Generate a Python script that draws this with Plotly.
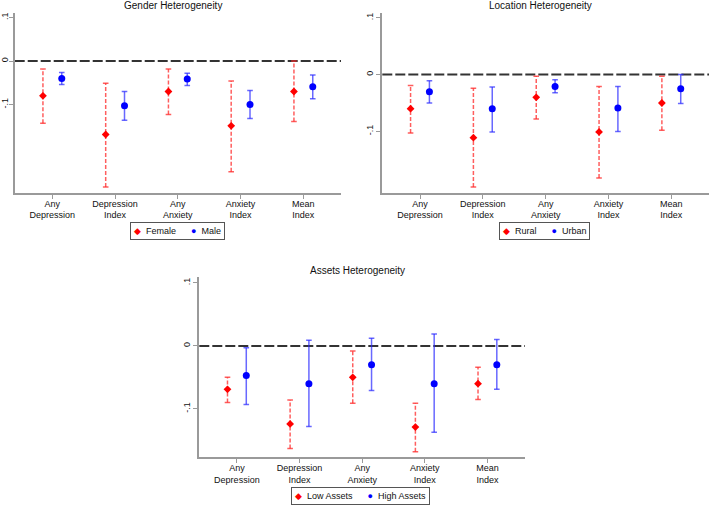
import plotly.graph_objects as go

# ---------------- data ----------------
categories = ["Any<br>Depression", "Depression<br>Index", "Any<br>Anxiety", "Anxiety<br>Index", "Mean<br>Index"]
ytick_vals = [0.1, 0.0, -0.1]
ytick_text = [".1", "0", "-.1"]

# Gender
female_est = [-0.080, -0.169, -0.070, -0.149, -0.070]
female_lo = [-0.143, -0.290, -0.123, -0.255, -0.139]
female_hi = [-0.018, -0.051, -0.018, -0.046, 0.000]
male_est = [-0.040, -0.103, -0.041, -0.100, -0.059]
male_lo = [-0.054, -0.136, -0.056, -0.132, -0.087]
male_hi = [-0.026, -0.070, -0.028, -0.068, -0.032]

# Location
rural_est = [-0.060, -0.111, -0.040, -0.101, -0.050]
rural_lo = [-0.103, -0.198, -0.078, -0.182, -0.098]
rural_hi = [-0.019, -0.024, -0.003, -0.021, -0.003]
urban_est = [-0.030, -0.060, -0.021, -0.059, -0.025]
urban_lo = [-0.050, -0.101, -0.032, -0.100, -0.051]
urban_hi = [-0.011, -0.022, -0.009, -0.021, 0.000]

# Assets
low_est = [-0.069, -0.124, -0.050, -0.129, -0.060]
low_lo = [-0.090, -0.163, -0.091, -0.168, -0.085]
low_hi = [-0.050, -0.086, -0.008, -0.091, -0.034]
high_est = [-0.047, -0.060, -0.030, -0.060, -0.030]
high_lo = [-0.093, -0.128, -0.071, -0.137, -0.069]
high_hi = [-0.003, 0.009, 0.012, 0.019, 0.010]

# ---------------- style ----------------
FONT = "Liberation Sans, Arial, Helvetica, sans-serif"
RED = "#ff0000"
RED_CI = "rgba(255,40,40,0.75)"
BLUE = "#0000ff"
BLUE_CI = "rgba(40,40,255,0.7)"
AXIS_COL = "#9a9a9a"
OFFSET = 0.15
W, H = 709, 506

fig = go.Figure()


def add_series(est, lo, hi, name, side, xa, ya, symbol, color, ci_color, dash, msize):
    xs = [i + 1 + side * OFFSET for i in range(len(est))]
    lx, ly = [], []
    for x, a, b in zip(xs, lo, hi):
        lx += [x, x, None]
        ly += [a, b, None]
    fig.add_trace(go.Scatter(x=lx, y=ly, mode="lines", xaxis=xa, yaxis=ya,
                             line=dict(color=ci_color, width=1.5, dash=dash),
                             showlegend=False, hoverinfo="skip"))
    fig.add_trace(go.Scatter(x=xs + xs, y=lo + hi, mode="markers", xaxis=xa, yaxis=ya,
                             marker=dict(symbol="line-ew", size=4,
                                         line=dict(color=ci_color, width=1.5)),
                             showlegend=False, hoverinfo="skip"))
    fig.add_trace(go.Scatter(x=xs, y=est, mode="markers", name=name, xaxis=xa, yaxis=ya,
                             showlegend=False,
                             marker=dict(symbol=symbol, size=msize, color=color)))


panels = [
    dict(xa="x", ya="y", yr=[-0.303, 0.11], ystand=-3,
         series=[(female_est, female_lo, female_hi, "Female"), (male_est, male_lo, male_hi, "Male")],
         title="Gender Heterogeneity", xdom=[14.7, 341], ydom=[13.3, 192.7],
         title_x=173, title_y=5, leg_x=177.5, leg_y=222.3),
    dict(xa="x2", ya="y2", yr=[-0.208, 0.108], ystand=0,
         series=[(rural_est, rural_lo, rural_hi, "Rural"), (urban_est, urban_lo, urban_hi, "Urban")],
         title="Location Heterogeneity", xdom=[382.3, 709], ydom=[13.3, 192.7],
         title_x=540.7, title_y=5, leg_x=544.3, leg_y=222.3),
    dict(xa="x3", ya="y3", yr=[-0.177, 0.109], ystand=0,
         series=[(low_est, low_lo, low_hi, "Low Assets"), (high_est, high_lo, high_hi, "High Assets")],
         title="Assets Heterogeneity", xdom=[199.3, 525], ydom=[277.3, 457.3],
         title_x=357.7, title_y=270, leg_x=360, leg_y=486.7),
]

layout = dict(
    width=W, height=H, margin=dict(l=0, r=0, t=0, b=0, autoexpand=False),
    paper_bgcolor="white", plot_bgcolor="white",
    font=dict(family=FONT, size=9, color="#111"),
    shapes=[], annotations=[], showlegend=False,
)

for p in panels:
    (e1, l1, h1, n1), (e2, l2, h2, n2) = p["series"]
    add_series(e1, l1, h1, n1, -1, p["xa"], p["ya"], "diamond", RED, RED_CI, "4px,2px", 6)
    add_series(e2, l2, h2, n2, 1, p["xa"], p["ya"], "circle", BLUE, BLUE_CI, "solid", 7)

    xkey = "xaxis" + p["xa"][1:]
    ykey = "yaxis" + p["ya"][1:]
    layout[xkey] = dict(
        domain=[p["xdom"][0] / W, p["xdom"][1] / W], anchor=p["ya"],
        range=[0.4, 5.6], tickvals=[1, 2, 3, 4, 5], ticktext=categories,
        showgrid=False, zeroline=False, showline=True, linecolor=AXIS_COL, linewidth=2,
        ticks="outside", ticklen=4, tickcolor=AXIS_COL, tickwidth=1, automargin=False,
        ticklabelstandoff=-3,
        tickfont=dict(size=9, family=FONT, color="#111"), fixedrange=True,
    )
    layout[ykey] = dict(
        domain=[1 - p["ydom"][1] / H, 1 - p["ydom"][0] / H], anchor=p["xa"],
        range=p["yr"], tickvals=ytick_vals, ticktext=ytick_text, tickangle=-90,
        showgrid=False, zeroline=False, showline=True, linecolor=AXIS_COL, linewidth=2,
        ticks="outside", ticklen=4, tickcolor=AXIS_COL, tickwidth=1, automargin=False,
        ticklabelstandoff=p["ystand"],
        tickfont=dict(size=9, family=FONT, color="#111"), fixedrange=True,
    )
    layout["shapes"].append(dict(
        type="line", xref=p["xa"] + " domain", yref=p["ya"], x0=0, x1=1, y0=0, y1=0,
        line=dict(color="#333333", width=2, dash="10px,3px"), layer="below"))
    layout["annotations"].append(dict(
        text=p["title"], xref="paper", yref="paper", x=p["title_x"] / W, y=1 - p["title_y"] / H,
        xanchor="center", yanchor="middle", showarrow=False,
        font=dict(size=10, family=FONT, color="#111")))
    # legend box (key) for the panel
    legend_text = (
        f"<span style='color:{RED}'>\u25c6</span>&nbsp;&nbsp;{n1}"
        f"&nbsp;&nbsp;&nbsp;&nbsp;&nbsp;&nbsp;"
        f"<span style='color:{BLUE}'>\u25cf</span>&nbsp;&nbsp;{n2}"
    )
    layout["annotations"].append(dict(
        text=legend_text, xref="paper", yref="paper", x=p["leg_x"] / W, y=1 - p["leg_y"] / H,
        xanchor="center", yanchor="top", showarrow=False, align="left",
        bordercolor="#555555", borderwidth=1, borderpad=3, bgcolor="white",
        font=dict(size=9, family=FONT, color="#111")))

fig.update_layout(**layout)
fig.write_html("out.html", config={"displayModeBar": False},
               post_script="document.body.style.margin='0';document.body.style.padding='0';")
